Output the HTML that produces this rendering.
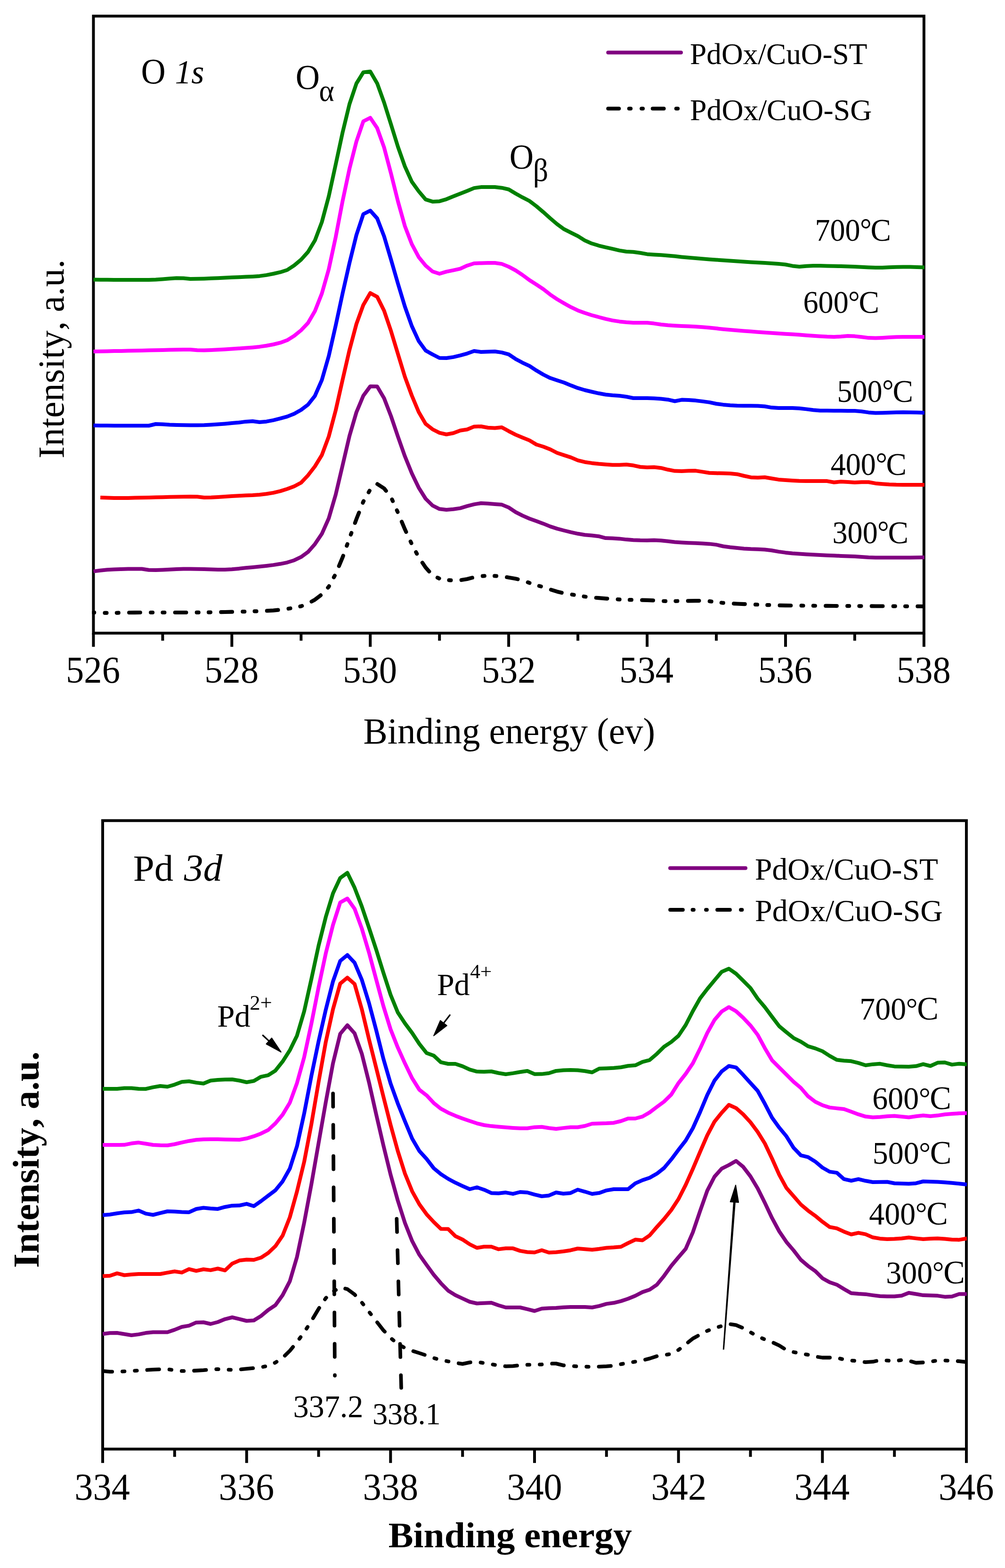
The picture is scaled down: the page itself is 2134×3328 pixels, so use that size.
<!DOCTYPE html>
<html lang="en"><head><meta charset="utf-8"><title>XPS spectra: O 1s and Pd 3d</title>
<style>html,body{margin:0;padding:0;background:#fff}body{width:2134px;height:3328px;overflow:hidden}svg{display:block}text{font-family:'Liberation Serif',serif;fill:#000;font-kerning:none;font-variant-ligatures:none}.b{font-weight:bold}.i{font-style:italic}.c{fill:none;stroke-width:8;stroke-linejoin:round;stroke-linecap:butt}.ax{fill:none;stroke:#000;stroke-width:6;stroke-linejoin:miter}.tk{stroke:#000;stroke-width:6;stroke-linecap:butt}</style></head><body>
<svg width="2134" height="3328" viewBox="0 0 2134 3328">
<rect width="2134" height="3328" fill="#fff"/>
<g id="o1s">
<rect class="ax" x="198.4" y="34.2" width="1763.5" height="1309.6"/>
<line class="tk" x1="198.4" y1="1343.8" x2="198.4" y2="1372.8"/>
<line class="tk" x1="345.4" y1="1343.8" x2="345.4" y2="1359.8"/>
<line class="tk" x1="492.3" y1="1343.8" x2="492.3" y2="1372.8"/>
<line class="tk" x1="639.3" y1="1343.8" x2="639.3" y2="1359.8"/>
<line class="tk" x1="786.2" y1="1343.8" x2="786.2" y2="1372.8"/>
<line class="tk" x1="933.2" y1="1343.8" x2="933.2" y2="1359.8"/>
<line class="tk" x1="1080.1" y1="1343.8" x2="1080.1" y2="1372.8"/>
<line class="tk" x1="1227.1" y1="1343.8" x2="1227.1" y2="1359.8"/>
<line class="tk" x1="1374.1" y1="1343.8" x2="1374.1" y2="1372.8"/>
<line class="tk" x1="1521.0" y1="1343.8" x2="1521.0" y2="1359.8"/>
<line class="tk" x1="1668.0" y1="1343.8" x2="1668.0" y2="1372.8"/>
<line class="tk" x1="1814.9" y1="1343.8" x2="1814.9" y2="1359.8"/>
<line class="tk" x1="1961.9" y1="1343.8" x2="1961.9" y2="1372.8"/>
<clipPath id="clip-o1s"><rect x="195.4" y="34.2" width="1767.7" height="1309.6"/></clipPath>
<g clip-path="url(#clip-o1s)">
<polyline class="c" stroke="#000000" stroke-dasharray="23.6 22.4 3.9 21.4 3.9 22.4" stroke-dashoffset="21.85" style="stroke-width:8.2;stroke-linecap:round" points="198.4,1300.0 213.1,1300.7 227.8,1301.0 242.5,1300.9 257.2,1300.6 271.9,1300.3 286.6,1300.1 301.3,1300.0 316.0,1300.0 330.7,1300.0 345.4,1300.0 360.1,1300.0 374.8,1300.0 389.4,1300.0 404.1,1300.0 418.8,1299.9 433.5,1299.8 448.2,1299.5 462.9,1299.3 477.6,1299.0 492.3,1298.7 507.0,1298.3 521.7,1298.0 536.4,1297.6 551.1,1297.1 565.8,1296.5 580.5,1295.6 595.2,1294.2 609.9,1292.2 624.6,1290.0 639.3,1286.7 654.0,1281.0 668.7,1272.8 683.4,1261.5 698.1,1245.2 712.8,1218.1 727.4,1183.2 742.1,1142.4 756.8,1101.8 771.5,1064.6 786.2,1038.9 800.9,1027.1 815.6,1036.6 830.3,1055.2 845.0,1088.1 859.7,1123.3 874.4,1154.9 889.1,1182.8 903.8,1204.5 918.5,1221.0 933.2,1228.1 947.9,1230.9 962.6,1232.0 977.3,1231.4 992.0,1229.0 1006.7,1225.1 1021.4,1222.8 1036.1,1222.0 1050.8,1222.4 1065.5,1223.3 1080.2,1225.7 1094.8,1228.3 1109.5,1231.7 1124.2,1237.2 1138.9,1242.0 1153.6,1246.0 1168.3,1251.1 1183.0,1255.7 1197.7,1259.2 1212.4,1261.6 1227.1,1263.8 1241.8,1266.3 1256.5,1268.0 1271.2,1269.2 1285.9,1270.3 1300.6,1271.3 1315.3,1272.3 1330.0,1272.9 1344.7,1273.3 1359.4,1273.5 1374.1,1273.8 1388.8,1274.4 1403.5,1275.6 1418.2,1276.0 1432.9,1275.8 1447.5,1275.6 1462.2,1275.3 1476.9,1275.1 1491.6,1275.0 1506.3,1276.1 1521.0,1278.0 1535.7,1279.7 1550.4,1280.7 1565.1,1281.5 1579.8,1282.1 1594.5,1282.7 1609.2,1283.3 1623.9,1283.9 1638.6,1284.4 1653.3,1284.8 1668.0,1285.1 1682.7,1285.3 1697.4,1285.4 1712.1,1285.6 1726.8,1285.7 1741.5,1285.8 1756.2,1285.9 1770.9,1286.0 1785.5,1286.1 1800.2,1286.2 1814.9,1286.3 1829.6,1286.3 1844.3,1286.4 1859.0,1286.5 1873.7,1286.5 1888.4,1286.6 1903.1,1286.7 1917.8,1286.8 1932.5,1286.9 1947.2,1286.9 1963.1,1287.0"/>
<polyline class="c" stroke="#800080" points="198.4,1212.6 213.1,1210.7 227.8,1209.3 242.5,1208.4 257.2,1207.9 271.9,1207.6 286.6,1207.5 301.3,1207.5 316.0,1209.7 330.7,1209.9 345.4,1209.4 360.1,1208.7 374.8,1208.1 389.4,1207.6 404.1,1207.5 418.8,1207.7 433.5,1208.1 448.2,1208.6 462.9,1208.9 477.6,1209.0 492.3,1208.3 507.0,1206.9 521.7,1205.3 536.4,1203.9 551.1,1202.5 565.8,1200.9 580.5,1199.1 595.2,1196.8 609.9,1193.8 624.6,1189.2 639.3,1182.2 654.0,1171.6 668.7,1154.8 683.4,1133.1 698.1,1100.1 712.8,1049.8 727.4,987.9 742.1,925.1 756.8,875.0 771.5,839.8 786.2,820.0 800.9,820.2 815.6,845.3 830.3,883.4 845.0,926.7 859.7,968.3 874.4,1004.6 889.1,1035.1 903.8,1058.5 918.5,1073.0 933.2,1080.3 947.9,1082.0 962.6,1080.8 977.3,1078.6 992.0,1074.2 1006.7,1070.4 1021.4,1068.0 1036.1,1068.8 1050.8,1070.1 1065.5,1071.1 1080.2,1077.1 1094.8,1086.9 1109.5,1094.4 1124.2,1100.7 1138.9,1106.1 1153.6,1111.4 1168.3,1117.4 1183.0,1122.1 1197.7,1126.0 1212.4,1129.6 1227.1,1132.8 1241.8,1135.2 1256.5,1136.5 1271.2,1138.2 1285.9,1142.1 1300.6,1142.6 1315.3,1143.4 1330.0,1145.1 1344.7,1146.2 1359.4,1146.8 1374.1,1146.9 1388.8,1146.5 1403.5,1147.2 1418.2,1148.8 1432.9,1150.5 1447.5,1151.5 1462.2,1152.2 1476.9,1152.8 1491.6,1153.4 1506.3,1154.4 1521.0,1156.1 1535.7,1159.5 1550.4,1161.5 1565.1,1163.1 1579.8,1164.4 1594.5,1165.3 1609.2,1165.8 1623.9,1166.5 1638.6,1168.3 1653.3,1170.9 1668.0,1172.9 1682.7,1174.4 1697.4,1175.5 1712.1,1176.5 1726.8,1177.3 1741.5,1178.0 1756.2,1178.7 1770.9,1179.3 1785.5,1179.9 1800.2,1180.4 1814.9,1181.0 1829.6,1181.9 1844.3,1182.9 1859.0,1183.5 1873.7,1183.5 1888.4,1183.5 1903.1,1183.5 1917.8,1183.5 1932.5,1183.4 1947.2,1183.2 1963.1,1183.0"/>
<polyline class="c" stroke="#ff0000" points="213.1,1056.1 227.8,1056.6 242.5,1056.9 257.2,1057.0 271.9,1056.9 286.6,1056.6 301.3,1056.3 316.0,1055.9 330.7,1055.6 345.4,1055.2 360.1,1054.8 374.8,1054.4 389.4,1054.2 404.1,1054.0 418.8,1054.2 433.5,1056.0 448.2,1055.7 462.9,1055.0 477.6,1054.0 492.3,1052.9 507.0,1052.2 521.7,1051.5 536.4,1050.9 551.1,1049.9 565.8,1048.3 580.5,1045.9 595.2,1042.4 609.9,1037.7 624.6,1032.2 639.3,1024.5 654.0,1008.9 668.7,989.9 683.4,965.8 698.1,926.4 712.8,871.0 727.4,806.4 742.1,742.7 756.8,687.6 771.5,647.2 786.2,622.0 800.9,629.9 815.6,659.5 830.3,702.8 845.0,751.3 859.7,799.7 874.4,839.5 889.1,874.5 903.8,899.7 918.5,911.2 933.2,918.6 947.9,922.0 962.6,919.3 977.3,913.7 992.0,911.5 1006.7,905.4 1021.4,905.0 1036.1,907.8 1050.8,908.6 1065.5,907.0 1080.2,915.1 1094.8,922.6 1109.5,928.8 1124.2,934.6 1138.9,943.5 1153.6,948.0 1168.3,953.8 1183.0,961.2 1197.7,966.1 1212.4,970.9 1227.1,977.1 1241.8,980.7 1256.5,982.9 1271.2,984.5 1285.9,985.7 1300.6,986.7 1315.3,986.8 1330.0,986.0 1344.7,987.8 1359.4,991.0 1374.1,991.9 1388.8,991.5 1403.5,993.2 1418.2,996.8 1432.9,999.6 1447.5,999.9 1462.2,999.3 1476.9,999.1 1491.6,1001.4 1506.3,1003.8 1521.0,1004.3 1535.7,1004.6 1550.4,1004.9 1565.1,1006.4 1579.8,1010.0 1594.5,1013.2 1609.2,1013.8 1623.9,1013.0 1638.6,1015.5 1653.3,1017.9 1668.0,1019.1 1682.7,1020.0 1697.4,1020.7 1712.1,1021.0 1726.8,1021.0 1741.5,1021.0 1756.2,1021.1 1770.9,1023.8 1785.5,1022.3 1800.2,1022.9 1814.9,1024.0 1829.6,1023.3 1844.3,1023.3 1859.0,1025.9 1873.7,1027.2 1888.4,1028.2 1903.1,1028.8 1917.8,1029.0 1932.5,1029.0 1947.2,1029.0 1963.1,1029.0"/>
<polyline class="c" stroke="#0000ff" points="198.4,903.0 213.1,903.2 227.8,903.3 242.5,903.4 257.2,903.4 271.9,903.5 286.6,903.5 301.3,903.5 316.0,903.5 330.7,900.0 345.4,900.6 360.1,901.6 374.8,902.1 389.4,902.3 404.1,902.4 418.8,902.5 433.5,902.3 448.2,901.6 462.9,900.6 477.6,899.4 492.3,898.1 507.0,896.8 521.7,894.9 536.4,894.0 551.1,896.0 565.8,894.7 580.5,891.8 595.2,888.2 609.9,884.1 624.6,878.2 639.3,870.0 654.0,858.9 668.7,840.2 683.4,806.7 698.1,755.6 712.8,690.9 727.4,623.0 742.1,558.1 756.8,498.8 771.5,454.5 786.2,447.0 800.9,463.5 815.6,501.6 830.3,551.1 845.0,602.0 859.7,650.6 874.4,692.0 889.1,723.9 903.8,744.0 918.5,752.3 933.2,759.8 947.9,760.0 962.6,757.9 977.3,754.4 992.0,750.3 1006.7,745.0 1021.4,747.0 1036.1,746.4 1050.8,746.0 1065.5,748.1 1080.2,752.1 1094.8,761.9 1109.5,769.8 1124.2,776.6 1138.9,786.3 1153.6,795.0 1168.3,802.3 1183.0,807.3 1197.7,812.0 1212.4,818.1 1227.1,823.7 1241.8,828.0 1256.5,831.5 1271.2,834.8 1285.9,837.5 1300.6,839.0 1315.3,840.0 1330.0,842.0 1344.7,845.0 1359.4,845.0 1374.1,845.0 1388.8,845.5 1403.5,846.6 1418.2,848.2 1432.9,851.5 1447.5,848.6 1462.2,848.9 1476.9,850.1 1491.6,851.9 1506.3,853.9 1521.0,857.0 1535.7,858.9 1550.4,860.3 1565.1,861.0 1579.8,861.2 1594.5,861.3 1609.2,861.4 1623.9,862.5 1638.6,865.1 1653.3,866.0 1668.0,866.0 1682.7,866.0 1697.4,866.7 1712.1,868.4 1726.8,870.3 1741.5,871.4 1756.2,871.6 1770.9,871.7 1785.5,871.8 1800.2,871.9 1814.9,872.0 1829.6,873.3 1844.3,875.4 1859.0,876.5 1873.7,876.2 1888.4,875.7 1903.1,875.2 1917.8,875.0 1932.5,875.2 1947.2,875.5 1963.1,876.0"/>
<polyline class="c" stroke="#ff00ff" points="198.4,746.0 213.1,745.7 227.8,745.4 242.5,745.1 257.2,744.9 271.9,744.6 286.6,744.3 301.3,744.0 316.0,743.6 330.7,743.3 345.4,742.9 360.1,742.5 374.8,742.2 389.4,742.0 404.1,742.1 418.8,743.3 433.5,743.4 448.2,743.0 462.9,742.3 477.6,741.4 492.3,740.5 507.0,739.6 521.7,738.6 536.4,737.4 551.1,735.9 565.8,733.8 580.5,731.0 595.2,727.4 609.9,722.1 624.6,712.9 639.3,701.0 654.0,685.6 668.7,660.3 683.4,623.0 698.1,571.3 712.8,503.3 727.4,426.9 742.1,358.1 756.8,300.3 771.5,257.5 786.2,250.0 800.9,271.8 815.6,313.0 830.3,368.6 845.0,427.4 859.7,479.9 874.4,518.1 889.1,545.7 903.8,563.8 918.5,576.2 933.2,581.0 947.9,576.6 962.6,573.6 977.3,570.3 992.0,563.7 1006.7,559.0 1021.4,558.4 1036.1,558.1 1050.8,558.0 1065.5,560.1 1080.2,566.1 1094.8,573.9 1109.5,583.6 1124.2,594.5 1138.9,603.8 1153.6,613.6 1168.3,625.2 1183.0,635.1 1197.7,643.7 1212.4,651.9 1227.1,658.9 1241.8,664.3 1256.5,669.0 1271.2,673.0 1285.9,676.9 1300.6,680.1 1315.3,682.4 1330.0,684.0 1344.7,684.9 1359.4,685.0 1374.1,685.1 1388.8,686.6 1403.5,688.8 1418.2,690.3 1432.9,691.2 1447.5,691.9 1462.2,692.5 1476.9,693.2 1491.6,694.2 1506.3,695.5 1521.0,697.1 1535.7,698.7 1550.4,700.1 1565.1,701.3 1579.8,702.5 1594.5,703.6 1609.2,704.7 1623.9,705.7 1638.6,706.7 1653.3,707.7 1668.0,708.7 1682.7,709.6 1697.4,710.6 1712.1,711.7 1726.8,712.8 1741.5,713.8 1756.2,714.6 1770.9,715.0 1785.5,714.3 1800.2,713.1 1814.9,713.6 1829.6,715.3 1844.3,717.1 1859.0,717.5 1873.7,716.9 1888.4,716.0 1903.1,715.2 1917.8,715.0 1932.5,715.0 1947.2,715.0 1963.1,715.0"/>
<polyline class="c" stroke="#008000" points="198.4,593.5 213.1,593.7 227.8,593.8 242.5,593.9 257.2,593.9 271.9,594.0 286.6,594.0 301.3,594.0 316.0,594.0 330.7,593.5 345.4,592.4 360.1,591.2 374.8,590.2 389.4,590.4 404.1,592.0 418.8,591.8 433.5,591.4 448.2,590.8 462.9,590.2 477.6,589.5 492.3,588.8 507.0,588.2 521.7,587.6 536.4,586.9 551.1,585.9 565.8,583.9 580.5,581.0 595.2,577.7 609.9,573.0 624.6,563.3 639.3,551.1 654.0,534.8 668.7,510.3 683.4,471.4 698.1,416.6 712.8,349.2 727.4,281.4 742.1,220.9 756.8,177.2 771.5,153.4 786.2,151.8 800.9,176.9 815.6,217.6 830.3,264.3 845.0,311.6 859.7,353.1 874.4,385.6 889.1,406.0 903.8,423.4 918.5,427.9 933.2,427.2 947.9,422.8 962.6,416.8 977.3,411.0 992.0,405.2 1006.7,399.1 1021.4,397.1 1036.1,397.0 1050.8,397.0 1065.5,398.7 1080.2,402.0 1094.8,410.8 1109.5,418.9 1124.2,426.5 1138.9,437.6 1153.6,450.1 1168.3,463.3 1183.0,475.7 1197.7,486.4 1212.4,493.9 1227.1,501.2 1241.8,510.3 1256.5,516.8 1271.2,521.3 1285.9,524.9 1300.6,528.1 1315.3,531.6 1330.0,534.0 1344.7,534.7 1359.4,536.8 1374.1,539.4 1388.8,540.5 1403.5,541.3 1418.2,542.4 1432.9,543.8 1447.5,545.4 1462.2,546.8 1476.9,548.1 1491.6,549.3 1506.3,550.4 1521.0,551.5 1535.7,552.5 1550.4,553.5 1565.1,554.4 1579.8,555.4 1594.5,556.4 1609.2,557.2 1623.9,558.0 1638.6,558.9 1653.3,560.0 1668.0,561.5 1682.7,564.4 1697.4,566.0 1712.1,564.8 1726.8,564.0 1741.5,564.1 1756.2,564.4 1770.9,564.7 1785.5,565.1 1800.2,565.6 1814.9,566.0 1829.6,566.7 1844.3,567.5 1859.0,568.0 1873.7,567.9 1888.4,567.3 1903.1,566.7 1917.8,566.5 1932.5,566.6 1947.2,567.0 1963.1,567.5"/>
</g>
</g>
<text transform="translate(140.10,1449.40) scale(0.9636,1)" font-size="79.44">526</text>
<text transform="translate(434.34,1449.40) scale(0.9636,1)" font-size="79.44">528</text>
<text transform="translate(728.25,1449.40) scale(0.9636,1)" font-size="79.44">530</text>
<text transform="translate(1022.82,1449.40) scale(0.9636,1)" font-size="79.44">532</text>
<text transform="translate(1315.23,1449.40) scale(0.9636,1)" font-size="79.44">534</text>
<text transform="translate(1609.69,1449.40) scale(0.9636,1)" font-size="79.44">536</text>
<text transform="translate(1903.92,1449.40) scale(0.9636,1)" font-size="79.44">538</text>
<text transform="translate(771.38,1578.40) scale(0.9938,1)" font-size="77.43">Binding energy (ev)</text>
<text transform="translate(135.30,972.90) rotate(-90) scale(0.9905,1)" font-size="78.35">Intensity, a.u.</text>
<text transform="scale(0.9576,1)" xml:space="preserve"><tspan x="312.79" y="176.70" font-size="75.37">O </tspan><tspan class="i" x="387.85" y="176.70" font-size="72.82">1s</tspan></text>
<text transform="scale(0.9506,1)" xml:space="preserve"><tspan x="660.33" y="189.30" font-size="74.61">O</tspan><tspan x="712.79" y="214.50" font-size="64.72">α</tspan></text>
<text transform="scale(0.9507,1)" xml:space="preserve"><tspan x="1137.83" y="358.40" font-size="74.76">O</tspan><tspan x="1190.42" y="383.60" font-size="67.12">β</tspan></text>
<line x1="1291.3" y1="111.4" x2="1446" y2="111.4" stroke="#800080" stroke-width="8" stroke-linecap="round"/>
<line x1="1291.4" y1="230.5" x2="1314.2" y2="230.5" stroke="#000" stroke-width="8.2" stroke-linecap="round"/>
<line x1="1335.9" y1="230.5" x2="1339.1" y2="230.5" stroke="#000" stroke-width="8.2" stroke-linecap="round"/>
<line x1="1362.3" y1="230.5" x2="1365.0" y2="230.5" stroke="#000" stroke-width="8.2" stroke-linecap="round"/>
<line x1="1385.9" y1="230.5" x2="1409.5" y2="230.5" stroke="#000" stroke-width="8.2" stroke-linecap="round"/>
<line x1="1435.9" y1="230.5" x2="1439.1" y2="230.5" stroke="#000" stroke-width="8.2" stroke-linecap="round"/>
<text transform="translate(1465.08,136.00) scale(0.9872,1)" font-size="64.14">PdOx/CuO-ST</text>
<text transform="translate(1465.06,255.40) scale(0.9900,1)" font-size="64.45">PdOx/CuO-SG</text>
<text transform="scale(0.9573,1)"><tspan x="1807.64" y="510.70" font-size="67.06">700</tspan><tspan x="1907.49" y="509.17" font-size="64.77">°</tspan><tspan x="1930.88" y="510.70" font-size="68.08">C</tspan></text>
<text transform="scale(0.9573,1)"><tspan x="1781.53" y="664.20" font-size="67.06">600</tspan><tspan x="1881.37" y="662.67" font-size="64.77">°</tspan><tspan x="1904.76" y="664.20" font-size="68.08">C</tspan></text>
<text transform="scale(0.9573,1)"><tspan x="1856.74" y="852.70" font-size="67.06">500</tspan><tspan x="1956.58" y="851.17" font-size="64.77">°</tspan><tspan x="1979.98" y="852.70" font-size="68.08">C</tspan></text>
<text transform="scale(0.9573,1)"><tspan x="1842.33" y="1007.70" font-size="67.06">400</tspan><tspan x="1942.17" y="1006.17" font-size="64.77">°</tspan><tspan x="1965.56" y="1007.70" font-size="68.08">C</tspan></text>
<text transform="scale(0.9573,1)"><tspan x="1846.29" y="1152.70" font-size="67.06">300</tspan><tspan x="1946.14" y="1151.17" font-size="64.77">°</tspan><tspan x="1969.53" y="1152.70" font-size="68.08">C</tspan></text>
<g id="pd3d">
<rect class="ax" x="218.0" y="1741.7" width="1834.0" height="1333.8999999999999"/>
<line class="tk" x1="218.0" y1="3075.6" x2="218.0" y2="3105.1"/>
<line class="tk" x1="370.8" y1="3075.6" x2="370.8" y2="3092.1"/>
<line class="tk" x1="523.7" y1="3075.6" x2="523.7" y2="3105.1"/>
<line class="tk" x1="676.5" y1="3075.6" x2="676.5" y2="3092.1"/>
<line class="tk" x1="829.3" y1="3075.6" x2="829.3" y2="3105.1"/>
<line class="tk" x1="982.2" y1="3075.6" x2="982.2" y2="3092.1"/>
<line class="tk" x1="1135.0" y1="3075.6" x2="1135.0" y2="3105.1"/>
<line class="tk" x1="1287.8" y1="3075.6" x2="1287.8" y2="3092.1"/>
<line class="tk" x1="1440.7" y1="3075.6" x2="1440.7" y2="3105.1"/>
<line class="tk" x1="1593.5" y1="3075.6" x2="1593.5" y2="3092.1"/>
<line class="tk" x1="1746.3" y1="3075.6" x2="1746.3" y2="3105.1"/>
<line class="tk" x1="1899.2" y1="3075.6" x2="1899.2" y2="3092.1"/>
<line class="tk" x1="2052.0" y1="3075.6" x2="2052.0" y2="3105.1"/>
<clipPath id="clip-pd3d"><rect x="215.0" y="1741.7" width="1838.2" height="1333.8999999999999"/></clipPath>
<g clip-path="url(#clip-pd3d)">
<polyline class="c" stroke="#000000" stroke-dasharray="25.5 21.8 4.5 21.8 4.5 21.8" stroke-dashoffset="5.3" style="stroke-width:7.8;stroke-linecap:round" points="218.0,2909.9 233.3,2911.3 248.6,2911.4 263.9,2910.7 279.1,2909.8 294.4,2908.8 309.7,2907.9 325.0,2906.9 340.3,2906.2 355.6,2906.2 370.8,2908.1 386.1,2909.9 401.4,2909.8 416.7,2909.0 432.0,2908.1 447.2,2906.8 462.5,2906.0 477.8,2906.7 493.1,2907.5 508.4,2906.7 523.7,2905.1 539.0,2903.7 554.2,2901.9 569.5,2898.8 584.8,2892.0 600.1,2881.9 615.4,2867.0 630.6,2848.5 645.9,2827.6 661.2,2803.8 676.5,2778.0 691.8,2755.1 707.1,2741.3 722.4,2732.5 737.6,2736.1 752.9,2747.4 768.2,2764.3 783.5,2784.1 798.8,2803.8 814.0,2823.3 829.3,2839.7 844.6,2852.3 859.9,2861.0 875.2,2867.0 890.5,2871.9 905.8,2877.0 921.0,2882.4 936.3,2886.5 951.6,2889.5 966.9,2892.4 982.2,2894.9 997.5,2891.6 1012.7,2890.6 1028.0,2893.2 1043.3,2895.7 1058.6,2898.0 1073.9,2899.8 1089.2,2899.4 1104.4,2897.5 1119.7,2896.7 1135.0,2896.3 1150.3,2896.0 1165.6,2894.2 1180.8,2894.1 1196.1,2897.9 1211.4,2899.3 1226.7,2900.1 1242.0,2900.7 1257.3,2901.0 1272.5,2900.6 1287.8,2899.9 1303.1,2898.7 1318.4,2895.4 1333.7,2892.5 1349.0,2890.1 1364.2,2887.2 1379.5,2883.4 1394.8,2878.5 1410.1,2876.0 1425.4,2873.6 1440.7,2865.1 1456.0,2853.3 1471.2,2841.0 1486.5,2832.5 1501.8,2824.6 1517.1,2818.8 1532.4,2814.5 1547.7,2810.1 1562.9,2812.4 1578.2,2818.9 1593.5,2827.7 1608.8,2836.4 1624.1,2843.0 1639.3,2848.7 1654.6,2855.7 1669.9,2865.4 1685.2,2869.7 1700.5,2872.8 1715.8,2875.4 1731.0,2879.1 1746.3,2881.5 1761.6,2881.5 1776.9,2881.7 1792.2,2885.7 1807.5,2887.6 1822.8,2889.1 1838.0,2891.2 1853.3,2890.2 1868.6,2886.7 1883.9,2887.7 1899.2,2888.9 1914.5,2886.6 1929.7,2888.0 1945.0,2892.5 1960.3,2891.7 1975.6,2890.1 1990.9,2887.6 2006.2,2887.6 2021.4,2888.1 2036.7,2889.2 2053.2,2891.0"/>
<polyline class="c" stroke="#800080" points="218.0,2831.2 233.3,2829.3 248.6,2829.0 263.9,2831.5 279.1,2834.0 294.4,2832.1 309.7,2829.1 325.0,2827.5 340.3,2827.5 355.6,2827.5 370.8,2822.4 386.1,2816.3 401.4,2813.6 416.7,2806.9 432.0,2806.5 447.2,2810.0 462.5,2806.0 477.8,2799.8 493.1,2796.0 508.4,2799.6 523.7,2803.5 539.0,2802.5 554.2,2793.1 569.5,2780.4 584.8,2770.2 600.1,2748.9 615.4,2719.3 630.6,2667.9 645.9,2595.0 661.2,2513.4 676.5,2426.1 691.8,2339.1 707.1,2256.6 722.4,2194.3 737.6,2176.0 752.9,2193.2 768.2,2236.3 783.5,2297.2 798.8,2365.2 814.0,2430.6 829.3,2492.9 844.6,2547.9 859.9,2595.8 875.2,2634.2 890.5,2663.3 905.8,2684.8 921.0,2705.6 936.3,2723.7 951.6,2739.3 966.9,2748.8 982.2,2756.0 997.5,2763.0 1012.7,2766.5 1028.0,2765.7 1043.3,2765.0 1058.6,2770.5 1073.9,2775.0 1089.2,2775.0 1104.4,2775.0 1119.7,2778.6 1135.0,2782.5 1150.3,2777.5 1165.6,2776.6 1180.8,2775.9 1196.1,2774.7 1211.4,2774.0 1226.7,2774.0 1242.0,2774.0 1257.3,2775.0 1272.5,2771.9 1287.8,2767.4 1303.1,2765.3 1318.4,2761.6 1333.7,2756.5 1349.0,2750.3 1364.2,2742.4 1379.5,2737.3 1394.8,2726.8 1410.1,2707.9 1425.4,2686.6 1440.7,2668.4 1456.0,2650.6 1471.2,2615.5 1486.5,2570.5 1501.8,2527.2 1517.1,2497.5 1532.4,2480.4 1547.7,2472.7 1562.9,2464.0 1578.2,2476.7 1593.5,2496.7 1608.8,2522.2 1624.1,2553.0 1639.3,2585.2 1654.6,2613.5 1669.9,2636.1 1685.2,2654.0 1700.5,2673.9 1715.8,2686.9 1731.0,2697.7 1746.3,2712.9 1761.6,2721.5 1776.9,2726.7 1792.2,2736.0 1807.5,2744.7 1822.8,2746.1 1838.0,2746.9 1853.3,2749.1 1868.6,2751.0 1883.9,2751.4 1899.2,2751.5 1914.5,2749.9 1929.7,2744.0 1945.0,2746.5 1960.3,2749.1 1975.6,2749.5 1990.9,2750.1 2006.2,2752.4 2021.4,2751.8 2036.7,2746.5 2053.2,2746.5"/>
<polyline class="c" stroke="#ff0000" points="218.0,2708.5 233.3,2707.7 248.6,2702.6 263.9,2706.5 279.1,2705.0 294.4,2704.0 309.7,2704.0 325.0,2704.0 340.3,2704.0 355.6,2701.1 370.8,2698.5 386.1,2700.9 401.4,2693.6 416.7,2697.4 432.0,2694.0 447.2,2695.9 462.5,2692.5 477.8,2696.4 493.1,2681.9 508.4,2675.3 523.7,2673.5 539.0,2674.0 554.2,2669.3 569.5,2659.4 584.8,2644.9 600.1,2622.6 615.4,2583.6 630.6,2528.9 645.9,2465.9 661.2,2386.0 676.5,2296.4 691.8,2211.3 707.1,2141.8 722.4,2087.6 737.6,2075.0 752.9,2088.4 768.2,2141.8 783.5,2205.6 798.8,2266.5 814.0,2327.1 829.3,2387.3 844.6,2442.8 859.9,2491.0 875.2,2528.6 890.5,2556.1 905.8,2577.2 921.0,2593.6 936.3,2608.3 951.6,2608.5 966.9,2623.6 982.2,2630.8 997.5,2641.0 1012.7,2648.5 1028.0,2646.0 1043.3,2646.0 1058.6,2651.4 1073.9,2649.5 1089.2,2649.6 1104.4,2654.9 1119.7,2657.5 1135.0,2658.2 1150.3,2653.5 1165.6,2658.5 1180.8,2657.8 1196.1,2656.0 1211.4,2653.7 1226.7,2650.0 1242.0,2651.2 1257.3,2652.5 1272.5,2650.8 1287.8,2648.5 1303.1,2647.6 1318.4,2646.3 1333.7,2638.4 1349.0,2631.1 1364.2,2632.5 1379.5,2622.0 1394.8,2604.2 1410.1,2587.3 1425.4,2568.2 1440.7,2544.9 1456.0,2514.9 1471.2,2480.9 1486.5,2444.9 1501.8,2409.7 1517.1,2380.7 1532.4,2361.8 1547.7,2345.0 1562.9,2351.8 1578.2,2365.2 1593.5,2381.9 1608.8,2402.3 1624.1,2427.0 1639.3,2459.0 1654.6,2493.4 1669.9,2521.3 1685.2,2538.9 1700.5,2556.5 1715.8,2569.4 1731.0,2580.4 1746.3,2593.1 1761.6,2604.2 1776.9,2607.1 1792.2,2614.2 1807.5,2620.0 1822.8,2616.6 1838.0,2619.7 1853.3,2626.3 1868.6,2628.9 1883.9,2630.0 1899.2,2629.5 1914.5,2628.5 1929.7,2626.5 1945.0,2628.4 1960.3,2630.0 1975.6,2629.1 1990.9,2628.5 2006.2,2629.5 2021.4,2630.9 2036.7,2631.4 2053.2,2628.5"/>
<polyline class="c" stroke="#0000ff" points="218.0,2579.1 233.3,2577.7 248.6,2575.2 263.9,2573.3 279.1,2572.6 294.4,2569.3 309.7,2575.9 325.0,2578.5 340.3,2574.7 355.6,2571.0 370.8,2571.6 386.1,2572.5 401.4,2572.9 416.7,2566.0 432.0,2563.5 447.2,2564.9 462.5,2565.9 477.8,2561.7 493.1,2558.9 508.4,2558.6 523.7,2555.1 539.0,2560.0 554.2,2549.4 569.5,2537.8 584.8,2526.3 600.1,2507.4 615.4,2480.2 630.6,2432.8 645.9,2363.2 661.2,2283.6 676.5,2210.1 691.8,2142.9 707.1,2082.8 722.4,2039.5 737.6,2027.0 752.9,2043.3 768.2,2079.3 783.5,2128.8 798.8,2186.4 814.0,2246.9 829.3,2299.5 844.6,2341.9 859.9,2380.0 875.2,2416.8 890.5,2443.0 905.8,2459.7 921.0,2479.5 936.3,2492.2 951.6,2502.0 966.9,2510.2 982.2,2517.3 997.5,2524.0 1012.7,2520.0 1028.0,2525.2 1043.3,2532.2 1058.6,2532.7 1073.9,2531.1 1089.2,2533.9 1104.4,2530.0 1119.7,2531.0 1135.0,2535.4 1150.3,2539.0 1165.6,2537.4 1180.8,2531.0 1196.1,2533.5 1211.4,2532.2 1226.7,2525.0 1242.0,2529.3 1257.3,2534.0 1272.5,2532.0 1287.8,2526.6 1303.1,2524.0 1318.4,2524.0 1333.7,2523.9 1349.0,2511.6 1364.2,2504.9 1379.5,2499.8 1394.8,2491.1 1410.1,2479.0 1425.4,2460.8 1440.7,2440.4 1456.0,2420.7 1471.2,2394.5 1486.5,2360.5 1501.8,2324.0 1517.1,2293.5 1532.4,2274.0 1547.7,2262.5 1562.9,2265.6 1578.2,2281.6 1593.5,2298.5 1608.8,2315.2 1624.1,2342.8 1639.3,2372.2 1654.6,2393.3 1669.9,2411.8 1685.2,2436.3 1700.5,2452.1 1715.8,2455.8 1731.0,2465.3 1746.3,2478.1 1761.6,2486.9 1776.9,2489.1 1792.2,2502.7 1807.5,2506.0 1822.8,2502.6 1838.0,2506.3 1853.3,2509.0 1868.6,2508.8 1883.9,2508.5 1899.2,2511.5 1914.5,2512.1 1929.7,2512.4 1945.0,2511.4 1960.3,2507.5 1975.6,2507.9 1990.9,2508.6 2006.2,2509.5 2021.4,2510.8 2036.7,2512.2 2053.2,2514.0"/>
<polyline class="c" stroke="#ff00ff" points="218.0,2430.0 233.3,2430.0 248.6,2430.0 263.9,2429.8 279.1,2426.8 294.4,2425.1 309.7,2427.5 325.0,2430.0 340.3,2430.7 355.6,2431.0 370.8,2428.5 386.1,2424.8 401.4,2421.7 416.7,2419.2 432.0,2418.3 447.2,2418.0 462.5,2418.1 477.8,2418.4 493.1,2418.8 508.4,2419.0 523.7,2416.3 539.0,2411.7 554.2,2405.9 569.5,2398.4 584.8,2384.3 600.1,2365.9 615.4,2340.5 630.6,2298.8 645.9,2243.7 661.2,2172.7 676.5,2095.3 691.8,2023.3 707.1,1963.0 722.4,1915.6 737.6,1907.1 752.9,1928.7 768.2,1970.5 783.5,2021.8 798.8,2078.9 814.0,2135.0 829.3,2184.5 844.6,2223.2 859.9,2257.1 875.2,2288.7 890.5,2313.0 905.8,2324.8 921.0,2341.1 936.3,2353.3 951.6,2361.6 966.9,2368.2 982.2,2374.0 997.5,2379.2 1012.7,2384.3 1028.0,2388.0 1043.3,2390.1 1058.6,2391.6 1073.9,2392.8 1089.2,2393.9 1104.4,2394.8 1119.7,2394.8 1135.0,2392.4 1150.3,2391.8 1165.6,2394.3 1180.8,2396.0 1196.1,2394.1 1211.4,2392.5 1226.7,2392.5 1242.0,2389.7 1257.3,2385.0 1272.5,2384.4 1287.8,2384.0 1303.1,2383.2 1318.4,2379.5 1333.7,2374.0 1349.0,2374.0 1364.2,2369.9 1379.5,2361.0 1394.8,2349.4 1410.1,2338.1 1425.4,2323.1 1440.7,2298.7 1456.0,2279.2 1471.2,2256.8 1486.5,2225.8 1501.8,2192.4 1517.1,2164.9 1532.4,2146.8 1547.7,2137.5 1562.9,2146.2 1578.2,2160.2 1593.5,2176.4 1608.8,2196.4 1624.1,2224.7 1639.3,2250.3 1654.6,2265.6 1669.9,2280.9 1685.2,2296.1 1700.5,2309.0 1715.8,2326.8 1731.0,2338.4 1746.3,2345.7 1761.6,2350.6 1776.9,2352.4 1792.2,2354.1 1807.5,2359.5 1822.8,2365.2 1838.0,2369.8 1853.3,2371.5 1868.6,2370.8 1883.9,2369.3 1899.2,2368.5 1914.5,2370.1 1929.7,2371.5 1945.0,2369.3 1960.3,2367.5 1975.6,2369.0 1990.9,2367.6 2006.2,2365.3 2021.4,2364.0 2036.7,2363.1 2053.2,2362.5"/>
<polyline class="c" stroke="#008000" points="218.0,2311.0 233.3,2311.0 248.6,2311.0 263.9,2309.5 279.1,2309.4 294.4,2311.0 309.7,2311.2 325.0,2307.6 340.3,2305.0 355.6,2306.5 370.8,2302.1 386.1,2296.3 401.4,2295.0 416.7,2297.9 432.0,2299.8 447.2,2293.5 462.5,2292.0 477.8,2291.3 493.1,2291.0 508.4,2293.5 523.7,2297.0 539.0,2294.3 554.2,2285.3 569.5,2282.2 584.8,2272.3 600.1,2253.1 615.4,2229.2 630.6,2198.2 645.9,2146.3 661.2,2077.9 676.5,2007.0 691.8,1946.2 707.1,1896.0 722.4,1863.4 737.6,1852.5 752.9,1884.1 768.2,1923.8 783.5,1969.1 798.8,2015.6 814.0,2064.3 829.3,2111.3 844.6,2148.7 859.9,2172.0 875.2,2192.5 890.5,2215.7 905.8,2234.9 921.0,2240.5 936.3,2254.7 951.6,2258.0 966.9,2258.0 982.2,2263.1 997.5,2270.2 1012.7,2274.3 1028.0,2274.7 1043.3,2274.0 1058.6,2277.5 1073.9,2280.0 1089.2,2277.9 1104.4,2275.2 1119.7,2273.0 1135.0,2279.7 1150.3,2279.6 1165.6,2277.8 1180.8,2272.9 1196.1,2271.6 1211.4,2271.0 1226.7,2271.6 1242.0,2273.3 1257.3,2276.0 1272.5,2268.0 1287.8,2267.4 1303.1,2266.8 1318.4,2265.2 1333.7,2262.2 1349.0,2261.1 1364.2,2253.9 1379.5,2249.8 1394.8,2236.7 1410.1,2221.6 1425.4,2211.5 1440.7,2198.4 1456.0,2175.5 1471.2,2146.0 1486.5,2119.0 1501.8,2099.1 1517.1,2080.7 1532.4,2062.6 1547.7,2056.0 1562.9,2066.6 1578.2,2081.7 1593.5,2097.0 1608.8,2119.5 1624.1,2137.6 1639.3,2158.0 1654.6,2178.1 1669.9,2190.8 1685.2,2203.2 1700.5,2210.9 1715.8,2220.7 1731.0,2225.1 1746.3,2231.1 1761.6,2241.0 1776.9,2249.5 1792.2,2251.2 1807.5,2252.3 1822.8,2256.1 1838.0,2261.0 1853.3,2258.9 1868.6,2257.8 1883.9,2261.0 1899.2,2263.4 1914.5,2263.8 1929.7,2264.0 1945.0,2262.8 1960.3,2258.6 1975.6,2262.5 1990.9,2255.6 2006.2,2255.0 2021.4,2259.6 2036.7,2257.7 2053.2,2259.0"/>
</g>
</g>
<text transform="translate(158.35,3183.10) scale(0.9683,1)" font-size="80.95">334</text>
<text transform="translate(464.57,3183.10) scale(0.9683,1)" font-size="80.95">336</text>
<text transform="translate(770.56,3183.10) scale(0.9683,1)" font-size="80.95">338</text>
<text transform="translate(1076.23,3183.10) scale(0.9683,1)" font-size="80.95">340</text>
<text transform="translate(1382.57,3183.10) scale(0.9683,1)" font-size="80.95">342</text>
<text transform="translate(1686.68,3183.10) scale(0.9683,1)" font-size="80.95">344</text>
<text transform="translate(1992.90,3183.10) scale(0.9683,1)" font-size="80.95">346</text>
<text class="b" transform="translate(824.79,3284.30) scale(1.0372,1)" font-size="76.36">Binding energy</text>
<text class="b" transform="translate(81.90,2691.15) rotate(-90) scale(0.9939,1)" font-size="79.26">Intensity, a.u.</text>
<text transform="scale(1.0243,1)" xml:space="preserve"><tspan x="275.96" y="1868.60" font-size="78.96">Pd </tspan><tspan class="i" x="381.55" y="1868.60" font-size="79.53">3d</tspan></text>
<text transform="scale(1.0100,1)" xml:space="preserve"><tspan x="456.62" y="2179.40" font-size="66.13">Pd</tspan><tspan x="524.99" y="2143.00" font-size="44.27">2+</tspan></text>
<text transform="scale(1.0012,1)" xml:space="preserve"><tspan x="926.88" y="2112.10" font-size="65.82">Pd</tspan><tspan x="996.95" y="2076.50" font-size="43.17">4+</tspan></text>
<line x1="1423" y1="1842.5" x2="1583" y2="1842.5" stroke="#800080" stroke-width="8" stroke-linecap="round"/>
<line x1="1423" y1="1931" x2="1450.0" y2="1931" stroke="#000" stroke-width="7.8" stroke-linecap="round"/>
<line x1="1470.5" y1="1931" x2="1473.0" y2="1931" stroke="#000" stroke-width="7.8" stroke-linecap="round"/>
<line x1="1499" y1="1931" x2="1501.0" y2="1931" stroke="#000" stroke-width="7.8" stroke-linecap="round"/>
<line x1="1523" y1="1931" x2="1550.0" y2="1931" stroke="#000" stroke-width="7.8" stroke-linecap="round"/>
<line x1="1573" y1="1931" x2="1575.5" y2="1931" stroke="#000" stroke-width="7.8" stroke-linecap="round"/>
<text transform="translate(1603.12,1866.80) scale(1.0125,1)" font-size="64.60">PdOx/CuO-ST</text>
<text transform="translate(1603.10,1954.90) scale(1.0146,1)" font-size="64.91">PdOx/CuO-SG</text>
<text transform="scale(0.9908,1)"><tspan x="1842.13" y="2164.30" font-size="66.61">700</tspan><tspan x="1941.69" y="2161.62" font-size="62.58">°</tspan><tspan x="1965.27" y="2164.30" font-size="68.96">C</tspan></text>
<text transform="scale(0.9908,1)"><tspan x="1869.48" y="2354.30" font-size="66.61">600</tspan><tspan x="1969.04" y="2351.62" font-size="62.58">°</tspan><tspan x="1992.62" y="2354.30" font-size="68.96">C</tspan></text>
<text transform="scale(0.9908,1)"><tspan x="1869.88" y="2470.30" font-size="66.61">500</tspan><tspan x="1969.45" y="2467.62" font-size="62.58">°</tspan><tspan x="1993.03" y="2470.30" font-size="68.96">C</tspan></text>
<text transform="scale(0.9908,1)"><tspan x="1862.31" y="2598.80" font-size="66.61">400</tspan><tspan x="1961.88" y="2596.12" font-size="62.58">°</tspan><tspan x="1985.46" y="2598.80" font-size="68.96">C</tspan></text>
<text transform="scale(0.9908,1)"><tspan x="1898.65" y="2723.80" font-size="66.61">300</tspan><tspan x="1998.21" y="2721.12" font-size="62.58">°</tspan><tspan x="2021.79" y="2723.80" font-size="68.96">C</tspan></text>
<text transform="translate(622.53,3007.80) scale(0.9870,1)" font-size="67.06">337.2</text>
<text transform="translate(790.92,3022.50) scale(0.9709,1)" font-size="66.30">338.1</text>
<line x1="707.1" y1="2320.9" x2="711" y2="2919.8" stroke="#000" stroke-width="7.7" stroke-linecap="round" stroke-dasharray="28 38.4"/>
<line x1="842.3" y1="2586.9" x2="852" y2="2945.6" stroke="#000" stroke-width="7.7" stroke-linecap="round" stroke-dasharray="28 38.4"/>
<line x1="558.2" y1="2197.5" x2="573.5" y2="2211.6" stroke="#000" stroke-width="3.2" stroke-linecap="round"/>
<polygon points="596.7,2232.9 565.5,2215.8 577.0,2203.3" fill="#000" stroke="#000" stroke-width="2" stroke-linejoin="round"/>
<line x1="955.2" y1="2154.4" x2="940.1" y2="2173.9" stroke="#000" stroke-width="3.2" stroke-linecap="round"/>
<polygon points="921.0,2198.3 935.0,2166.1 948.8,2176.8" fill="#000" stroke="#000" stroke-width="2" stroke-linejoin="round"/>
<polygon points="1537.8,2864.6 1562.2,2548.6 1557.2,2548.2 1534.8,2864.4" fill="#000"/>
<polygon points="1562.1,2515.5 1568.2,2552.0 1550.7,2550.8" fill="#000" stroke="#000" stroke-width="2" stroke-linejoin="round"/>
</svg></body></html>
